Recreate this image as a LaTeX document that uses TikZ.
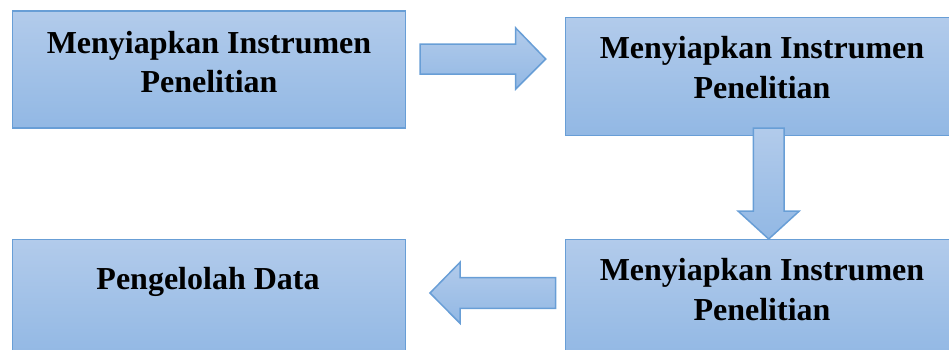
\documentclass[tikz,border=0pt]{standalone}
\usepackage{fontspec}
\setmainfont{Liberation Serif}
\definecolor{ftop}{RGB}{178,203,235}
\definecolor{fbot}{RGB}{146,184,228}
\definecolor{bord}{RGB}{104,158,214}
\begin{document}
\begin{tikzpicture}[x=1pt,y=-1pt,
  box/.style={draw=bord, line width=1.5pt, top color=ftop, bottom color=fbot,
    rectangle, inner sep=0pt, outer sep=0pt, anchor=north west},
  blockarrow/.style={draw=bord, line width=1.5pt, top color=ftop, bottom color=fbot, line join=miter},
  lbl/.style={font=\fontsize{32}{38}\selectfont\bfseries, anchor=base, inner sep=0pt}]
\useasboundingbox (0,0) rectangle (949,349);
\clip (0,0) rectangle (949,349);
% boxes
\node[box, minimum width=393pt, minimum height=117pt] (b1) at (12.5,11) {};
\node[box, minimum width=393pt, minimum height=118pt] (b2) at (565.7,17.3) {};
\node[box, minimum width=393pt, minimum height=117pt] (b3) at (12.5,239.3) {};
\node[box, minimum width=393pt, minimum height=117pt] (b4) at (565.7,239.3) {};
% labels
\node[lbl] (t1a) at (209,53) {Menyiapkan Instrumen};
\node[lbl] (t1b) at (209,92) {Penelitian};
\node[lbl] (t2a) at (762,58) {Menyiapkan Instrumen};
\node[lbl] (t2b) at (762,98) {Penelitian};
\node[lbl] (t3a) at (208,289) {Pengelolah Data};
\node[lbl] (t4a) at (762,280) {Menyiapkan Instrumen};
\node[lbl] (t4b) at (762,320) {Penelitian};
% block arrows
\draw[blockarrow] (420,44) -- (515.7,44) -- (515.7,28) -- (545.7,59) -- (515.7,89) -- (515.7,74) -- (420,74) -- cycle;
\draw[blockarrow] (753.3,128) -- (784,128) -- (784,211) -- (799.3,211) -- (768.7,239) -- (738,211) -- (753.3,211) -- cycle;
\draw[blockarrow] (555.7,277.7) -- (460,277.7) -- (460,262.3) -- (430,293) -- (460,323.3) -- (460,308.3) -- (555.7,308.3) -- cycle;
\end{tikzpicture}
\end{document}
